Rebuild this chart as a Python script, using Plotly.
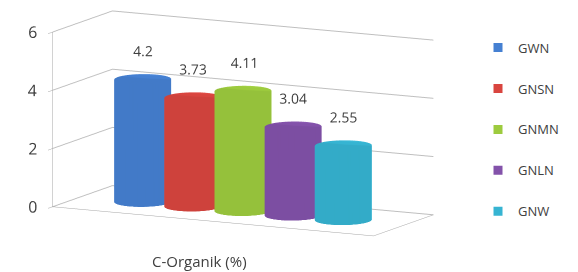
import numpy as np
import plotly.graph_objects as go

categories = ["GWN", "GNSN", "GNMN", "GNLN", "GNW"]
values = [4.2, 3.73, 4.11, 3.04, 2.55]
colors = ["#4580D2", "#D9453F", "#9DCB3E", "#8352AA", "#36B4D2"]
label_texts = ["4.2", "3.73", "4.11", "3.04", "2.55"]
axis_title = "C-Organik (%)"
z_ticks = [0, 2, 4, 6]

FONT = "Open Sans"
TEXT = "#404040"
X_RANGE = [-1.2, 5.2]
Y_RANGE = [-1.1, 1.1]


def cylinder(cx, cy, r, h, n=60):
    t = np.linspace(0, 2 * np.pi, n, endpoint=False)
    xs = np.concatenate([cx + r * np.cos(t), cx + r * np.cos(t), [cx]])
    ys = np.concatenate([cy + r * np.sin(t), cy + r * np.sin(t), [cy]])
    zs = np.concatenate([np.zeros(n), np.full(n, h), [h]])
    i, j, k = [], [], []
    for a in range(n):
        b = (a + 1) % n
        i += [a, b]
        j += [b, n + b]
        k += [n + a, n + a]
        i.append(n + a)
        j.append(n + b)
        k.append(2 * n)
    return xs, ys, zs, i, j, k


fig = go.Figure()
for idx, (name, v, c) in enumerate(zip(categories, values, colors)):
    xs, ys, zs, i, j, k = cylinder(idx, 0, 0.5, v)
    fig.add_trace(go.Mesh3d(
        x=xs, y=ys, z=zs, i=i, j=j, k=k, color=c, flatshading=False,
        lighting=dict(ambient=0.95, diffuse=0.3, specular=0.2, roughness=0.6, fresnel=0.0),
        lightposition=dict(x=-10000, y=-100000, z=50000),
        hoverinfo="skip", showlegend=False, name=name,
    ))

# value labels
fig.add_trace(go.Scatter3d(
    x=list(range(len(values))), y=[0.0] * len(values), z=[v + 0.31 for v in values],
    mode="text", text=label_texts, textfont=dict(family=FONT, size=14, color=TEXT),
    hoverinfo="skip", showlegend=False,
))

# z tick labels (upright), placed at the tick values on the front-left edge
fig.add_trace(go.Scatter3d(
    x=[X_RANGE[0]] * len(z_ticks), y=[Y_RANGE[0]] * len(z_ticks), z=z_ticks,
    mode="text", text=[str(t) + "\u00a0" * 6 for t in z_ticks], textposition="middle left",
    textfont=dict(family=FONT, size=16, color=TEXT),
    hoverinfo="skip", showlegend=False,
))

for idx, (name, c) in enumerate(zip(categories, colors)):
    fig.add_trace(go.Scatter(
        x=[None], y=[None], mode="markers", name=name, legendgroup=name,
        marker=dict(symbol="square", size=9, color=c),
    ))

axcommon = dict(showbackground=False, showspikes=False, zeroline=False,
                linecolor="#A6A6A6", linewidth=1, gridcolor="#BFBFBF")
D = 2.4
S = 1.28
PHI = np.radians(26.9)
THETA = np.radians(8.1)
fig.update_layout(
    width=578, height=272, margin=dict(l=0, r=0, t=0, b=0),
    paper_bgcolor="white", plot_bgcolor="white",
    xaxis=dict(visible=False), yaxis=dict(visible=False),
    hovermode=False,
    scene=dict(
        domain=dict(x=[0.02, 0.82], y=[0.0, 1.0]),
        xaxis=dict(range=X_RANGE, showgrid=False, showticklabels=False, ticks="",
                   showline=True, title=dict(text=""), **axcommon),
        yaxis=dict(range=Y_RANGE, showgrid=False, showticklabels=False, ticks="",
                   showline=True, title=dict(text=""), **axcommon),
        zaxis=dict(range=[0, 6], tickvals=z_ticks, showgrid=True, showline=True, ticks="outside",
                   ticklen=4, tickcolor="#A6A6A6", showticklabels=False,
                   title=dict(text=""), **axcommon),
        aspectmode="manual", aspectratio=dict(x=2.2 * S * 0.94, y=0.76 * S, z=1.02 * S),
        camera=dict(eye=dict(x=float(np.sin(PHI) * np.cos(THETA) * D),
                             y=float(-np.cos(PHI) * np.cos(THETA) * D),
                             z=float(np.sin(THETA) * D)),
                    center=dict(x=0, y=0, z=-0.094), projection=dict(type="orthographic")),
    ),
    annotations=[dict(text=axis_title, x=200 / 578, y=0.04, xref="paper", yref="paper",
                      xanchor="center", yanchor="middle", showarrow=False,
                      font=dict(family=FONT, size=15, color=TEXT))],
    legend=dict(x=0.827, y=0.88, xanchor="left", yanchor="top", tracegroupgap=21,
                font=dict(family=FONT, size=13, color=TEXT), itemwidth=30),
)

fig.write_html("out.html", post_script="document.body.style.margin='0';",
               config={"displayModeBar": False})
